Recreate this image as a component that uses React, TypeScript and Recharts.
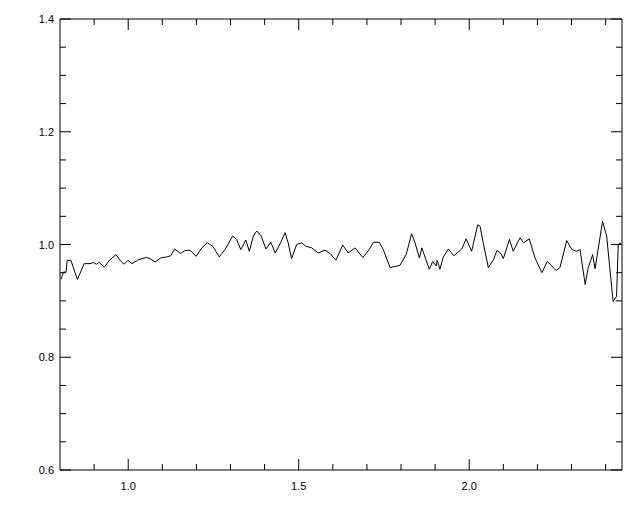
import React from 'react';
import { LineChart, Line, XAxis, YAxis } from 'recharts';

// values
const wavelength = [
  0.803, 0.81, 0.818, 0.821, 0.832, 0.851, 0.871, 0.888, 0.898, 0.906,
  0.915, 0.93, 0.945, 0.964, 0.979, 0.988, 0.999, 1.011, 1.03, 1.054,
  1.064, 1.079, 1.095, 1.113, 1.125, 1.136, 1.154, 1.166, 1.181, 1.199,
  1.216, 1.232, 1.248, 1.267, 1.284, 1.306, 1.318, 1.33, 1.345, 1.355,
  1.367, 1.377, 1.389, 1.404, 1.418, 1.431, 1.447, 1.46, 1.469, 1.479,
  1.494, 1.509, 1.521, 1.538, 1.557, 1.577, 1.592, 1.609, 1.629, 1.645,
  1.665, 1.688, 1.707, 1.719, 1.736, 1.748, 1.768, 1.797, 1.815, 1.831,
  1.841, 1.854, 1.861, 1.883, 1.893, 1.903, 1.906, 1.914, 1.924, 1.939,
  1.955, 1.978, 1.991, 2.007, 2.025, 2.032, 2.041, 2.056, 2.071, 2.081,
  2.092, 2.1, 2.118, 2.129, 2.149, 2.159, 2.176, 2.193, 2.213, 2.229,
  2.242, 2.255, 2.266, 2.286, 2.301, 2.315, 2.325, 2.34, 2.349, 2.362,
  2.369, 2.391, 2.403, 2.422, 2.432, 2.437, 2.442, 2.447,
];

const flux = [
  0.938, 0.951, 0.951, 0.972, 0.972, 0.938, 0.966, 0.966, 0.968, 0.965,
  0.968, 0.96, 0.972, 0.982, 0.97, 0.965, 0.972, 0.966, 0.973, 0.977,
  0.975, 0.969, 0.976, 0.978, 0.98, 0.992, 0.984, 0.989, 0.99, 0.979,
  0.994, 1.003, 0.997, 0.978, 0.991, 1.015, 1.009, 0.991, 1.008, 0.988,
  1.015, 1.024, 1.016, 0.992, 1.004, 0.985, 1.003, 1.021, 1.003, 0.975,
  1.0, 1.003, 0.997, 0.994, 0.985, 0.99, 0.984, 0.972, 0.999, 0.985,
  0.994, 0.977, 0.991, 1.004, 1.004, 0.991, 0.959, 0.963, 0.982, 1.019,
  1.003, 0.976, 0.994, 0.956, 0.97, 0.962, 0.972, 0.956, 0.978, 0.992,
  0.98, 0.992, 1.01, 0.988, 1.035, 1.032, 1.003, 0.959, 0.973, 0.989,
  0.985, 0.975, 1.009, 0.988, 1.012, 1.003, 1.01, 0.976, 0.95, 0.97,
  0.962, 0.954, 0.959, 1.007, 0.991, 0.988, 0.991, 0.929, 0.959, 0.982,
  0.957, 1.041, 1.015, 0.899, 0.908, 1.0, 1.003, 1.0,
];

const xTicks = [0.9, 1.0, 1.1, 1.2, 1.3, 1.4, 1.5, 1.6, 1.7, 1.8, 1.9, 2.0, 2.1, 2.2, 2.3, 2.4];
const xMajor = [1.0, 1.5, 2.0];
const yTicks = [0.6, 0.65, 0.7, 0.75, 0.8, 0.85, 0.9, 0.95, 1.0, 1.05, 1.1, 1.15, 1.2, 1.25, 1.3, 1.35, 1.4];
const yMajor = [0.6, 0.8, 1.0, 1.2, 1.4];

const data = wavelength.map((x, i) => ({ x, y: flux[i] }));

const isMajor = (v: number, majors: number[]) => majors.some(m => Math.abs(m - v) < 1e-6);
const font = { fontFamily: '"Liberation Sans", Arial, sans-serif', fontSize: 11, fill: '#000' };

const BottomTick = (props: any) => {
  const { x, y, payload } = props;
  const major = isMajor(payload.value, xMajor);
  return (
    <g>
      <line x1={x} y1={y} x2={x} y2={y - (major ? 11 : 6)} stroke="#000" />
      {major && (
        <text x={x} y={y + 20} textAnchor="middle" {...font}>
          {payload.value.toFixed(1)}
        </text>
      )}
    </g>
  );
};

const TopTick = (props: any) => {
  const { x, y, payload } = props;
  const major = isMajor(payload.value, xMajor);
  return <line x1={x} y1={y} x2={x} y2={y + (major ? 11 : 6)} stroke="#000" />;
};

const LeftTick = (props: any) => {
  const { x, y, payload } = props;
  const major = isMajor(payload.value, yMajor);
  return (
    <g>
      <line x1={x} y1={y} x2={x + (major ? 11 : 6)} y2={y} stroke="#000" />
      {major && (
        <text x={x - 6} y={y + 4} textAnchor="end" {...font}>
          {payload.value.toFixed(1)}
        </text>
      )}
    </g>
  );
};

const RightTick = (props: any) => {
  const { x, y, payload } = props;
  const major = isMajor(payload.value, yMajor);
  return <line x1={x} y1={y} x2={x - (major ? 11 : 6)} y2={y} stroke="#000" />;
};

export default function App() {
  return (
    <div style={{ width: 640, height: 512, background: '#fff' }}>
      <style>{'body{margin:0}'}</style>
      <LineChart width={640} height={512} data={data} margin={{ top: 18, right: 17, bottom: 0, left: 0 }}>
        <XAxis
          dataKey="x"
          type="number"
          domain={[0.8, 2.448]}
          allowDataOverflow
          ticks={xTicks}
          interval={0}
          height={42}
          tickSize={0}
          tickMargin={0}
          tickLine={false}
          axisLine={{ stroke: '#000' }}
          tick={<BottomTick />}
        />
        <XAxis
          xAxisId="top"
          orientation="top"
          dataKey="x"
          type="number"
          domain={[0.8, 2.448]}
          allowDataOverflow
          ticks={xTicks}
          interval={0}
          height={1}
          tickSize={0}
          tickMargin={0}
          tickLine={false}
          axisLine={{ stroke: '#000' }}
          tick={<TopTick />}
        />
        <YAxis
          type="number"
          domain={[0.6, 1.4]}
          allowDataOverflow
          ticks={yTicks}
          interval={0}
          width={60}
          tickSize={0}
          tickMargin={0}
          tickLine={false}
          axisLine={{ stroke: '#000' }}
          tick={<LeftTick />}
        />
        <YAxis
          yAxisId="right"
          orientation="right"
          type="number"
          domain={[0.6, 1.4]}
          allowDataOverflow
          ticks={yTicks}
          interval={0}
          width={1}
          tickSize={0}
          tickMargin={0}
          tickLine={false}
          axisLine={{ stroke: '#000' }}
          tick={<RightTick />}
        />
        {/* invisible series so the top and right frame axes get drawn */}
        <Line
          xAxisId="top"
          yAxisId="right"
          type="linear"
          dataKey="y"
          stroke="none"
          dot={false}
          isAnimationActive={false}
        />
        <Line
          type="linear"
          dataKey="y"
          stroke="#000"
          strokeWidth={1}
          dot={false}
          isAnimationActive={false}
        />
      </LineChart>
    </div>
  );
}
